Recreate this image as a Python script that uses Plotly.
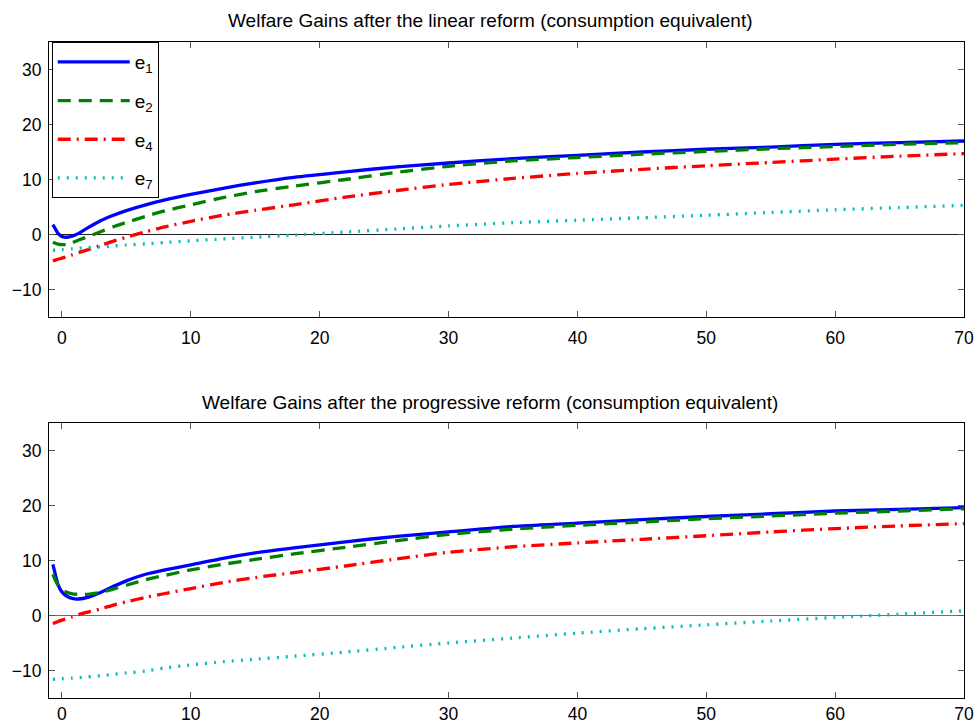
import plotly.graph_objects as go

# Years after the reform
years = [-0.7, -0.5, -0.3, 0, 0.4, 0.8, 1.3, 2, 3, 4, 5, 6.5, 8, 10, 12.5, 15, 18, 22,
         26, 30, 35, 40, 45, 50, 55, 60, 65, 70]
year_range = [-1, 70]

# Welfare gains after the linear reform (consumption equivalent, %)
lin_e1 = [1.8, 1.0, 0.2, -0.35, -0.5, -0.3, 0.2, 1.2, 2.5, 3.5, 4.35, 5.4, 6.3, 7.3, 8.4, 9.4,
          10.4, 11.4, 12.3, 13.0, 13.8, 14.4, 15.0, 15.5, 15.9, 16.4, 16.7, 17.0]
lin_e2 = [-1.4, -1.6, -1.75, -1.85, -1.8, -1.5, -1.0, -0.4, 0.5, 1.4, 2.2, 3.3, 4.3, 5.4, 6.7,
          7.8, 8.8, 10.0, 11.3, 12.4, 13.4, 14.0, 14.6, 15.1, 15.6, 16.0, 16.4, 16.7]
lin_e4 = [-4.8, -4.65, -4.5, -4.3, -4.0, -3.7, -3.3, -2.8, -2.0, -1.2, -0.5, 0.5, 1.4, 2.4, 3.5,
          4.4, 5.4, 6.8, 8.0, 9.1, 10.2, 11.1, 11.85, 12.5, 13.1, 13.7, 14.25, 14.7]
lin_e7 = [-2.9, -2.85, -2.8, -2.75, -2.7, -2.6, -2.5, -2.4, -2.25, -2.1, -1.9, -1.7, -1.45,
          -1.15, -0.8, -0.5, -0.1, 0.45, 1.0, 1.55, 2.15, 2.6, 3.05, 3.5, 4.0, 4.5, 4.9, 5.3]

# Welfare gains after the progressive reform (consumption equivalent, %)
prog_e1 = [9.3, 7.4, 5.6, 4.3, 3.5, 3.1, 3.0, 3.3, 4.2, 5.3, 6.3, 7.5, 8.3, 9.2, 10.4, 11.4,
           12.3, 13.4, 14.4, 15.2, 16.2, 16.8, 17.45, 18.0, 18.5, 19.0, 19.3, 19.6]
prog_e2 = [7.5, 6.4, 5.5, 4.7, 4.2, 3.95, 3.85, 3.85, 4.2, 4.8, 5.5, 6.5, 7.3, 8.3, 9.3, 10.2,
           11.2, 12.4, 13.6, 14.75, 15.7, 16.4, 17.0, 17.6, 18.1, 18.6, 19.0, 19.4]
prog_e4 = [-1.45, -1.3, -1.1, -0.85, -0.55, -0.25, 0.15, 0.6, 1.2, 1.9, 2.5, 3.3, 4.0, 4.9,
           6.0, 6.9, 7.8, 9.0, 10.3, 11.5, 12.5, 13.2, 13.85, 14.5, 15.2, 15.8, 16.3, 16.7]
prog_e7 = [-11.6, -11.58, -11.55, -11.5, -11.45, -11.38, -11.3, -11.15, -10.95, -10.7, -10.45,
           -10.1, -9.55, -9.0, -8.4, -7.95, -7.4, -6.65, -5.8, -5.0, -4.1, -3.2, -2.4, -1.7,
           -1.0, -0.35, 0.25, 0.85]

names = ["e<sub>1</sub>", "e<sub>2</sub>", "e<sub>4</sub>", "e<sub>7</sub>"]
colors = ["#0000FF", "#008000", "#FF0000", "#00BFBF"]
dashes = ["solid", "13px,8px", "13px,6px,2px,6px", "2px,7px"]

x_ticks = [0, 10, 20, 30, 40, 50, 60, 70]
y_ticks = [-10, 0, 10, 20, 30]
titles = ["Welfare Gains after the linear reform (consumption equivalent)",
          "Welfare Gains after the progressive reform (consumption equivalent)"]
zero_colors = ["#202020", "#E020E0"]

font_family = "Liberation Sans, Arial, sans-serif"

fig = go.Figure()

panels = [(lin_e1, lin_e2, lin_e4, lin_e7), (prog_e1, prog_e2, prog_e4, prog_e7)]
for p, series in enumerate(panels):
    xa = "x" if p == 0 else "x2"
    ya = "y" if p == 0 else "y2"
    # zero reference line, drawn first so the curves sit on top of it
    fig.add_trace(go.Scatter(
        x=year_range, y=[0, 0], mode="lines", xaxis=xa, yaxis=ya,
        line=dict(color=zero_colors[p], width=1.2), showlegend=False, hoverinfo="skip",
    ))
    for i, vals in enumerate(series):
        fig.add_trace(go.Scatter(
            x=years, y=vals, mode="lines", name=names[i],
            xaxis=xa, yaxis=ya,
            line=dict(color=colors[i], width=3.3, dash=dashes[i],
                      shape="spline", smoothing=0.6),
            showlegend=(p == 0), legendgroup=f"g{i}",
        ))

axis_font = dict(family=font_family, size=17.5, color="black")
xcommon = dict(range=year_range, tickvals=x_ticks, ticks="inside", ticklen=6,
               tickcolor="#555555", showline=True, linecolor="black", linewidth=1,
               mirror="ticks", showgrid=False, zeroline=False, tickfont=axis_font,
               automargin=False)
ycommon = dict(range=[-15, 35], tickvals=y_ticks, ticks="inside", ticklen=6,
               tickcolor="#555555", showline=True, linecolor="black", linewidth=1,
               mirror="ticks", showgrid=False, zeroline=False, tickfont=axis_font,
               automargin=False, ticklabelstandoff=3)

fig.update_layout(
    width=974, height=724, autosize=False,
    margin=dict(l=49, r=10, t=42, b=26),
    plot_bgcolor="white", paper_bgcolor="white",
    xaxis=dict(domain=[0, 1], anchor="y", ticklabelstandoff=5, **xcommon),
    yaxis=dict(domain=[0.5808, 1], anchor="x", **ycommon),
    xaxis2=dict(domain=[0, 1], anchor="y2", ticklabelstandoff=0, **xcommon),
    yaxis2=dict(domain=[0, 0.4192], anchor="x2", **ycommon),
    legend=dict(x=0.003, y=1, xanchor="left", yanchor="top",
                bgcolor="white", bordercolor="black", borderwidth=1,
                font=dict(family=font_family, size=19, color="black"),
                itemwidth=72, traceorder="grouped", tracegroupgap=11),
    showlegend=True,
)

for title, ypos in zip(titles, [1.0335, 0.451]):
    fig.add_annotation(text=title, xref="paper", yref="paper", x=0.482, y=ypos,
                       xanchor="center", yanchor="middle", showarrow=False,
                       font=dict(family=font_family, size=19, color="black"))

fig.write_html("out.html")
